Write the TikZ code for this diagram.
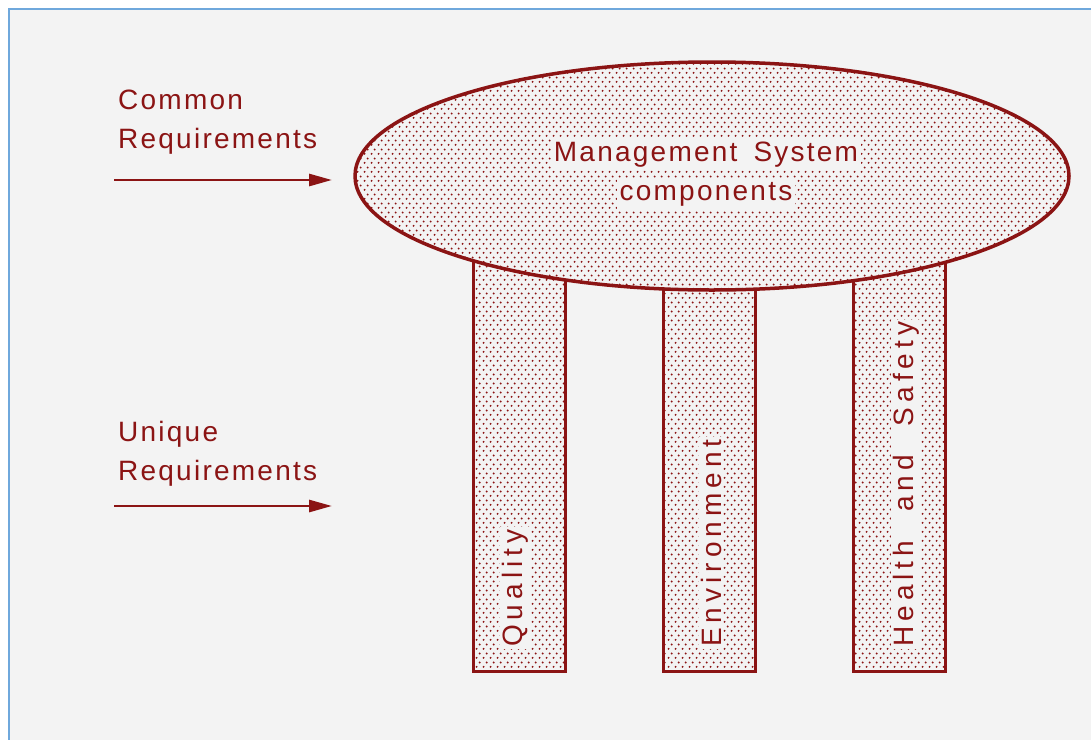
\documentclass[tikz,border=0pt]{standalone}
\usepackage{fontspec}
\setmainfont{Liberation Sans}[LetterSpace=8]
\newfontfamily\pillarfont{Liberation Sans}[LetterSpace=18]
\usetikzlibrary{shapes.geometric,patterns.meta,arrows.meta}
\definecolor{bgcol}{HTML}{F3F3F3}
\definecolor{framecol}{HTML}{6FA8DC}
\definecolor{msred}{HTML}{8B1414}
\newcommand{\widegap}{\hspace{16pt}}
\tikzdeclarepattern{
  name=msdots,
  type=uncolored,
  bottom left={(0pt,0pt)},
  top right={(6.6pt,8.8pt)},
  tile size={(6.6pt,8.8pt)},
  code={
    \pgfpathcircle{\pgfpoint{1.65pt}{2.2pt}}{1.1pt}
    \pgfpathcircle{\pgfpoint{4.95pt}{6.6pt}}{1.1pt}
    \pgfusepath{fill}
  }
}
\tikzset{
  dotted fill/.style={preaction={fill=bgcol},pattern=msdots,pattern color=msred},
  pillar/.style={draw=msred,line width=3pt,dotted fill,minimum width=92pt,minimum height=433pt,anchor=south,inner sep=0pt},
  pillarlabel/.style={rotate=90,anchor=west,fill=bgcol,inner sep=2pt,text=msred,font=\pillarfont\fontsize{28}{32}\selectfont},
  reqlabel/.style={anchor=north west,align=left,inner sep=0pt,text=msred,font=\fontsize{28}{39}\selectfont},
  msclabel/.style={fill=bgcol,inner sep=3pt,text=msred,font=\fontsize{28}{32}\selectfont},
  reqarrow/.style={draw=msred,line width=2.8pt,-{Triangle[length=23pt,width=12pt]}}
}
\begin{document}
\begin{tikzpicture}[x=1pt,y=-1pt]
  \useasboundingbox (0,0) rectangle (1091,739);
  \clip (0,0) rectangle (1091,739);
  \fill[white] (0,0) rectangle (1091,739);
  \draw[framecol,line width=1.5pt,fill=bgcol] (9,9) rectangle (1100,750);
  % pillars
  \node[pillar] (quality) at (519,673) {};
  \node[pillar] (environment) at (709,673) {};
  \node[pillar] (healthsafety) at (899,673) {};
  \node[pillarlabel] (qualitytext) at (515,649) {Quality};
  \node[pillarlabel] (envtext) at (711,649) {Environment};
  \node[pillarlabel] (hstext) at (906,649) {Health\widegap{} and\widegap{} Safety};
  % top
  \node[ellipse,draw=msred,line width=3.5pt,dotted fill,minimum width=714pt,minimum height=228pt] (msc) at (712,176) {};
  \node[msclabel,anchor=base] (msctop) at (706,161) {Management\hspace{6pt} System};
  \node[msclabel,anchor=base] (mscbottom) at (706,200) {components};
  % requirements
  \node[reqlabel] (common) at (118,90) {Common\\Requirements};
  \node[reqlabel] (unique) at (118,421) {Unique\\Requirements};
  \coordinate (commonstart) at (114,180);
  \coordinate (commonend) at (332,180);
  \coordinate (uniquestart) at (114,506);
  \coordinate (uniqueend) at (332,506);
  \draw[reqarrow] (commonstart) -- (commonend);
  \draw[reqarrow] (uniquestart) -- (uniqueend);
\end{tikzpicture}
\end{document}
